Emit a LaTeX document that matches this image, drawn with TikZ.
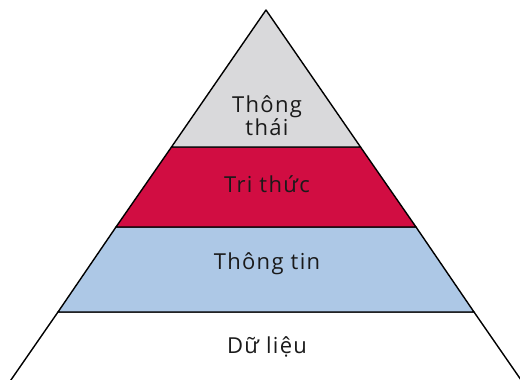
\documentclass[tikz,border=0pt]{standalone}
\usepackage{fontspec}
\setmainfont[LetterSpace=6]{Open Sans}
\definecolor{wisegray}{HTML}{D9D9DB}
\definecolor{knowred}{HTML}{D10D42}
\definecolor{infoblue}{HTML}{ADC8E6}
\definecolor{textdark}{HTML}{1A1A1A}
\begin{document}
\begin{tikzpicture}[x=1pt, y=-1pt,
    layer/.style={draw=black, line width=1.4pt, line join=round},
    label/.style={text=textdark, font=\fontsize{22}{22}\selectfont, align=center}]
    \useasboundingbox (0,0) rectangle (520,380);
    \clip (0,0) rectangle (520,380);

    % Layers of the pyramid
    \draw[layer, fill=white] (4,390) -- (58,312) -- (474,312) -- (528,390);
    \draw[layer, fill=infoblue] (58,312) -- (116,227) -- (416,227) -- (474,312) -- cycle;
    \draw[layer, fill=knowred] (116,227) -- (171.5,147) -- (360.5,147) -- (416,227) -- cycle;
    \draw[layer, fill=wisegray] (171.5,147) -- (266,10) -- (360.5,147) -- cycle;

    % Labels
    \node[label] (wisdom) at (267,116) {Thông\\thái};
    \node[label] (knowledge) at (267,184) {Tri thức};
    \node[label] (info) at (267,264) {Thông tin};
    \node[label] (data) at (267,347) {Dữ liệu};
\end{tikzpicture}
\end{document}
